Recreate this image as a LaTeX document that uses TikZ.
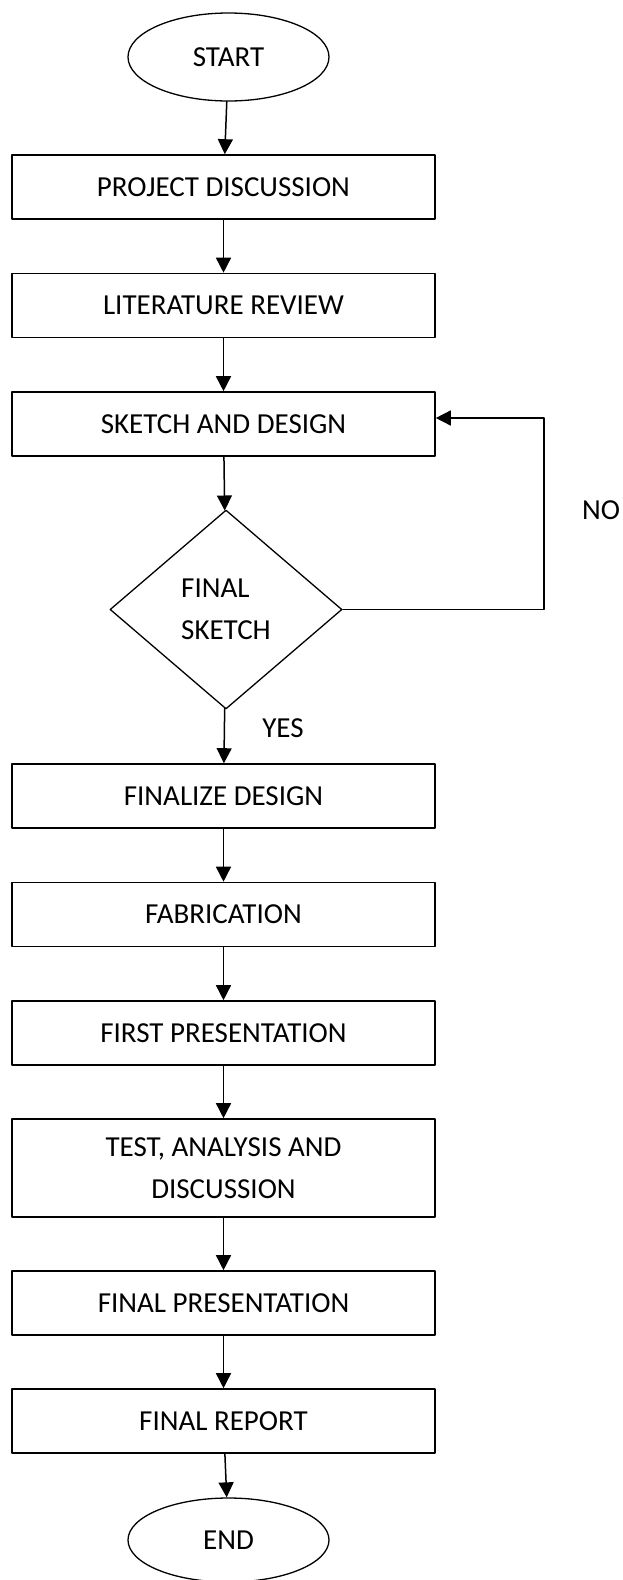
\documentclass[tikz,border=0pt]{standalone}
\usepackage{fontspec}
\setmainfont{Carlito}
\usetikzlibrary{shapes.geometric,arrows.meta}
\def\bx{223.5}
\def\bw{423}
\def\bh{64}

\begin{document}
\begin{tikzpicture}[x=1pt, y=-1pt, line cap = round, line join = round,
		every node/.style={font=\fontsize{29}{42}\selectfont},
		stepbox/.style={draw, line width=1.6pt, minimum width=\bw pt, minimum height=\bh pt, align=center, inner sep=0pt},
		terminal/.style={draw, ellipse, line width=1.3pt, minimum width=201pt, inner sep=0pt},
		decision/.style={draw, diamond, line width=1.3pt, minimum width=232pt, minimum height=199pt, align=left, inner sep=0pt},
		arrow/.style={line width=1.5pt, -{Triangle[length=15pt, width=15pt]}}]
		% Frame
		\useasboundingbox (0,0) rectangle (622,1580);
		
		% Terminals
		\node[terminal, minimum height=88pt] (start) at (228.5,57) {START};
		\node[terminal, minimum height=84pt] (end) at (228.5,1540) {END};
		
		% Steps
		\node[stepbox] (discuss) at (\bx,187) {PROJECT DISCUSSION};
		\node[stepbox] (review) at (\bx,305.5) {LITERATURE REVIEW};
		\node[stepbox] (sketch) at (\bx,424) {SKETCH AND DESIGN};
		\node[decision] (final) at (226,609.5) {FINAL\\SKETCH};
		\node[stepbox] (finalize) at (\bx,796) {FINALIZE DESIGN};
		\node[stepbox] (fabric) at (\bx,914.5) {FABRICATION};
		\node[stepbox] (firstpres) at (\bx,1033) {FIRST PRESENTATION};
		\node[stepbox, minimum height=98pt] (test) at (\bx,1168) {TEST, ANALYSIS AND\\DISCUSSION};
		\node[stepbox] (finalpres) at (\bx,1303) {FINAL PRESENTATION};
		\node[stepbox] (report) at (\bx,1421) {FINAL REPORT};
		
		% Labels
		\node (yes) at (283,728) {YES};
		\node (no) at (601,510) {NO};
		
		% Flow
		\draw[arrow] (start) -- (discuss);
		\draw[arrow] (discuss) -- (review);
		\draw[arrow] (review) -- (sketch);
		\draw[arrow] (sketch) -- (final);
		\draw[arrow] (final) -- (finalize);
		\draw[arrow] (finalize) -- (fabric);
		\draw[arrow] (fabric) -- (firstpres);
		\draw[arrow] (firstpres) -- (test);
		\draw[arrow] (test) -- (finalpres);
		\draw[arrow] (finalpres) -- (report);
		\draw[arrow] (report) -- (end);
		
		% Loop back
		\coordinate (looptop) at (544,418);
		\draw[arrow] (final.east) -| (looptop) -- (sketch.east |- looptop);
	\end{tikzpicture}
\end{document}
